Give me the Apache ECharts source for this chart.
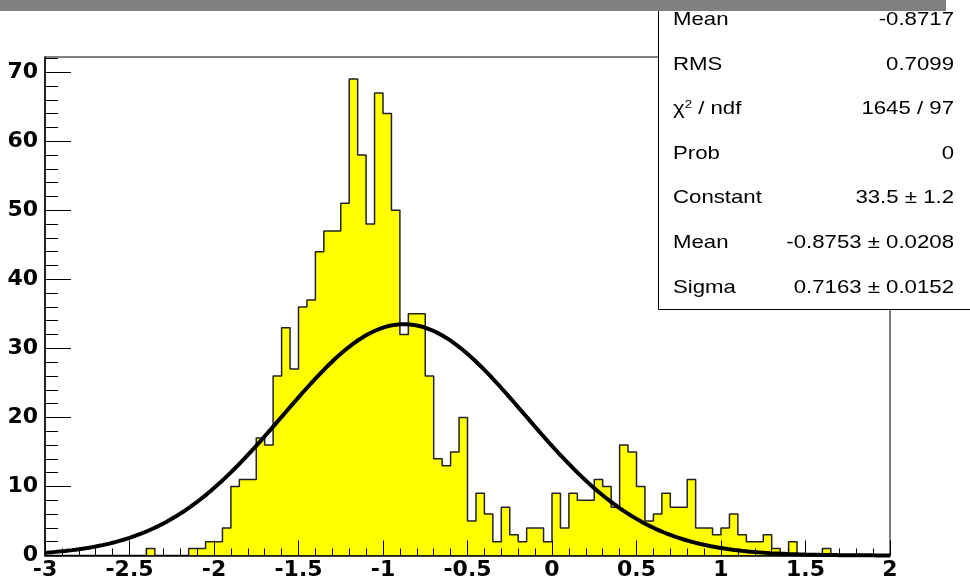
<!DOCTYPE html>
<html>
<head>
<meta charset="utf-8">
<script src="https://cdn.jsdelivr.net/npm/echarts@6/dist/echarts.min.js"></script>
<style>
  html, body { margin: 0; padding: 0; background: #fff; }
  #chart { width: 970px; height: 582px; }
</style>
</head>
<body>
<div id="chart"></div>
<script>
// Histogram binning: 100 bins of width 0.05 from -3 to 2
const binLow = -3;
const binWidth = 0.05;
const counts = [
  0, 0, 0, 0, 0, 0, 0, 0, 0, 0,
  0, 0, 1, 0, 0, 0, 0, 1, 1, 2,
  2, 4, 10, 11, 11, 17, 16, 26, 33, 27,
  36, 37, 44, 47, 47, 51, 69, 58, 48, 67,
  64, 50, 32, 35, 35, 26, 14, 13, 15, 20,
  5, 9, 6, 2, 7, 3, 2, 4, 4, 2,
  9, 4, 9, 8, 8, 11, 10, 7, 16, 15,
  10, 5, 6, 9, 7, 7, 11, 4, 4, 3,
  4, 6, 3, 2, 2, 3, 1, 0, 2, 0,
  0, 0, 1, 0, 0, 0, 0, 0, 0, 0
];

// Axis ticks
const yMajorTicks = [0, 10, 20, 30, 40, 50, 60, 70];
const yMinorTicks = [2, 4, 6, 8, 12, 14, 16, 18, 22, 24, 26, 28, 32, 34, 36, 38,
  42, 44, 46, 48, 52, 54, 56, 58, 62, 64, 66, 68, 72];

// Gaussian fit parameters and their errors
const fitConstant = 33.5, fitConstantErr = 1.2;
const fitMean = -0.8753, fitMeanErr = 0.0208;
const fitSigma = 0.7163, fitSigmaErr = 0.0152;

// Statistics box rows
const statsLabels = ['Mean', 'RMS', 'CHI2', 'Prob', 'Constant', 'Mean', 'Sigma'];
const statsValues = [
  '-0.8717', '0.7099', '1645 / 97', '0',
  fitConstant + ' \u00b1 ' + fitConstantErr,
  fitMean + ' \u00b1 ' + fitMeanErr,
  fitSigma + ' \u00b1 ' + fitSigmaErr
];

// Step outline of the histogram: one point per bin lower edge, plus the upper edge
const histPoints = counts.map((c, k) => [binLow + k * binWidth, c]);
histPoints.push([binLow + counts.length * binWidth, counts[counts.length - 1]]);

// Fitted Gaussian, evaluated along the axis range
const fitPoints = [];
for (let i = 0; i <= 500; i++) {
  const x = -3 + i * 0.01;
  fitPoints.push([x, fitConstant * Math.exp(-0.5 * Math.pow((x - fitMean) / fitSigma, 2))]);
}

const tickLine = { color: '#000', width: 1 };
const axisFont = { color: '#000', fontFamily: 'DejaVu Sans', fontWeight: 'bold', fontSize: 22 };
const statsFont = '18.5px "Liberation Sans", Arial, sans-serif';

const graphic = [
  {
    type: 'rect', z: 100,
    shape: { x: 658.5, y: -10, width: 330, height: 319.5 },
    style: { fill: '#fff', stroke: '#000', lineWidth: 1 }
  }
];
const rowY = [20, 64.6, 109.2, 153.8, 198.4, 243, 287.6];
statsLabels.forEach((lab, i) => {
  const labelStyle = lab === 'CHI2'
    ? {
        text: '{c|\u03c7}{s|2}{c| / ndf}',
        rich: {
          c: { fontSize: 18.5, fontFamily: '"Liberation Sans", Arial, sans-serif', fill: '#000' },
          s: { fontSize: 11, fontFamily: '"Liberation Sans", Arial, sans-serif', fill: '#000', verticalAlign: 'top' }
        }
      }
    : { text: lab, font: statsFont, fill: '#000' };
  graphic.push({
    type: 'text', z: 101, x: 673, y: rowY[i], scaleX: 1.2,
    style: Object.assign({ x: 0, y: 0, align: 'left', textAlign: 'left', verticalAlign: 'middle', textVerticalAlign: 'middle' }, labelStyle)
  });
  graphic.push({
    type: 'text', z: 101, x: 954, y: rowY[i], scaleX: 1.2,
    style: { x: 0, y: 0, text: statsValues[i], font: statsFont, fill: '#000',
             align: 'right', textAlign: 'right', verticalAlign: 'middle', textVerticalAlign: 'middle' }
  });
});
graphic.push({
  type: 'rect', z: 110,
  shape: { x: 0, y: 0, width: 946, height: 11 },
  style: { fill: '#808080' }
});

const chart = echarts.init(document.getElementById('chart'), null, { renderer: 'canvas' });
chart.setOption({
  animation: false,
  backgroundColor: '#fff',
  grid: {
    left: 45, right: 80, top: 57, bottom: 26.5,
    show: true, borderColor: '#000', borderWidth: 1, backgroundColor: 'transparent',
    containLabel: false, outerBoundsMode: 'none'
  },
  xAxis: {
    type: 'value', min: -3, max: 2, interval: 0.5, z: 5,
    axisLine: { show: true, onZero: false, lineStyle: { color: '#000', width: 1.5 } },
    axisTick: { show: true, inside: true, length: 15, lineStyle: tickLine },
    minorTick: { show: true, splitNumber: 5, length: 7, lineStyle: tickLine },
    splitLine: { show: false },
    axisLabel: Object.assign({ margin: 4 }, axisFont)
  },
  yAxis: [
    {
      type: 'value', min: 0, max: 72.2, interval: 10, position: 'left', z: 5,
      axisLine: { show: true, onZero: false, lineStyle: { color: '#000', width: 1.5 } },
      axisTick: { show: true, inside: true, length: 26, customValues: yMajorTicks, lineStyle: tickLine },
      splitLine: { show: false },
      axisLabel: Object.assign({ margin: 7, customValues: yMajorTicks }, axisFont)
    },
    {
      type: 'value', min: 0, max: 72.2, position: 'left', z: 5,
      axisLine: { show: false, onZero: false },
      axisTick: { show: true, inside: true, length: 13, customValues: yMinorTicks, lineStyle: tickLine },
      splitLine: { show: false },
      axisLabel: { show: false }
    }
  ],
  series: [
    {
      type: 'line', yAxisIndex: 0, data: histPoints, step: 'end',
      symbol: 'none', showSymbol: false,
      lineStyle: { color: '#222', width: 1.5 },
      areaStyle: { color: '#ffff00', opacity: 1 },
      z: 2
    },
    {
      type: 'line', yAxisIndex: 0, data: fitPoints,
      symbol: 'none', showSymbol: false, smooth: false, clip: false,
      lineStyle: { color: '#000', width: 4 },
      z: 3
    }
  ],
  graphic: graphic
});
</script>
</body>
</html>
